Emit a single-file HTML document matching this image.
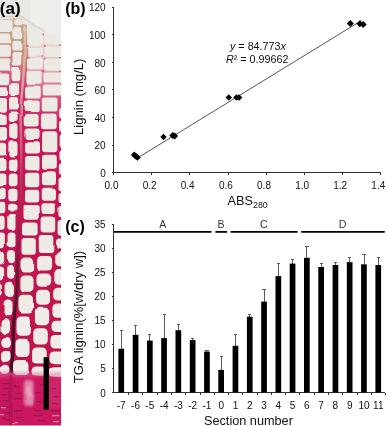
<!DOCTYPE html>
<html lang="en"><head><meta charset="utf-8"><title>Figure</title>
<style>
html,body{margin:0;padding:0;background:#fff;}
body{width:387px;height:426px;overflow:hidden;}
svg{display:block;}
text{font-family:"Liberation Sans",Arial,Helvetica,sans-serif;fill:#111;}
.b{font-weight:bold;font-size:16px;fill:#000;}
.t{font-size:10px;}
.ax{font-size:13.1px;}
.g{font-size:10.6px;fill:#333;}
.eq{font-size:10.75px;}
</style></head><body>
<svg width="387" height="426" viewBox="0 0 387 426">
<defs>
<linearGradient id="wall" x1="0" y1="0" x2="0" y2="426" gradientUnits="userSpaceOnUse">
<stop offset="0" stop-color="#e9e8e4"/>
<stop offset="0.038" stop-color="#dccbbb"/>
<stop offset="0.06" stop-color="#c7a288"/>
<stop offset="0.10" stop-color="#c4967c"/>
<stop offset="0.14" stop-color="#d08484"/>
<stop offset="0.176" stop-color="#d6557f"/>
<stop offset="0.21" stop-color="#d0306a"/>
<stop offset="0.26" stop-color="#cc1e60"/>
<stop offset="0.35" stop-color="#c81858"/>
<stop offset="0.59" stop-color="#c01450"/>
<stop offset="1" stop-color="#bc104c"/>
</linearGradient>
<linearGradient id="wallR" x1="0" y1="0" x2="0" y2="426" gradientUnits="userSpaceOnUse">
<stop offset="0" stop-color="#efeeeb"/>
<stop offset="0.07" stop-color="#eeece8"/>
<stop offset="0.10" stop-color="#e8d6cf"/>
<stop offset="0.15" stop-color="#e4bcc0"/>
<stop offset="0.19" stop-color="#de7d9c"/>
<stop offset="0.24" stop-color="#d84c7e" stop-opacity="1"/>
<stop offset="0.30" stop-color="#d12e6a" stop-opacity="0"/>
<stop offset="1" stop-color="#c41252" stop-opacity="0"/>
</linearGradient>
<linearGradient id="ray" x1="0" y1="0" x2="0" y2="426" gradientUnits="userSpaceOnUse">
<stop offset="0.05" stop-color="#dcc8b0"/>
<stop offset="0.16" stop-color="#d4b098"/>
<stop offset="0.22" stop-color="#d89aa0"/>
<stop offset="0.30" stop-color="#d07088"/>
<stop offset="0.40" stop-color="#c23a66"/>
<stop offset="0.50" stop-color="#a82250"/>
<stop offset="0.60" stop-color="#8a1a42"/>
<stop offset="0.68" stop-color="#5a1430"/>
<stop offset="0.88" stop-color="#3c0a22"/>
</linearGradient>
<linearGradient id="lumen" x1="0" y1="0" x2="0" y2="426" gradientUnits="userSpaceOnUse">
<stop offset="0" stop-color="#ebe9e3"/>
<stop offset="0.5" stop-color="#eeebe4"/>
<stop offset="1" stop-color="#f1ece8"/>
</linearGradient>
<clipPath id="mclip"><rect x="0" y="0" width="61" height="426"/></clipPath>
<filter id="soft2" x="-150%" y="-50%" width="400%" height="200%"><feGaussianBlur stdDeviation="1.6"/></filter>
<filter id="soft" x="-10%" y="-2%" width="120%" height="104%"><feTurbulence type="fractalNoise" baseFrequency="0.05" numOctaves="1" seed="7" result="n"/><feDisplacementMap in="SourceGraphic" in2="n" scale="3.2" xChannelSelector="R" yChannelSelector="G" result="d"/><feGaussianBlur in="d" stdDeviation="0.45"/></filter>
</defs>
<rect width="387" height="426" fill="#fff"/>

<g clip-path="url(#mclip)"><g filter="url(#soft)">
<rect x="-5" y="-5" width="72" height="436" fill="url(#wall)"/>
<rect x="27" y="-5" width="40" height="436" fill="url(#wallR)"/>
<polygon points="-5,-5 67,-5 67,33.6 46,33.2 43,31 29,30.5 28,25 22.5,24 22,18.6 14,18.6 -5,19.5" fill="#e9e8e4"/>
<polygon points="30,-5 67,-5 67,33.6 46,33.2 43,31 36,26 30,21" fill="#f0efec" opacity="0.8"/>
<path d="M-2,17.5 L10,16.5 L20,15.5 L28,21 L36,26.5 L45,32" fill="none" stroke="#cdb09c" stroke-width="1.2" opacity="0.5"/>
<path d="M14,18 L12,32" fill="none" stroke="#c9a58a" stroke-width="1.3" opacity="0.8"/>
<circle cx="43" cy="34.5" r="1.1" fill="#c8305a" opacity="0.75"/>
<circle cx="45" cy="46" r="1.1" fill="#c8305a" opacity="0.75"/>
<circle cx="41.5" cy="55.5" r="1.1" fill="#c8305a" opacity="0.75"/>
<circle cx="45" cy="59" r="1.1" fill="#c8305a" opacity="0.75"/>
<circle cx="60" cy="45" r="1.1" fill="#c8305a" opacity="0.75"/>
<circle cx="60" cy="57.5" r="1.1" fill="#c8305a" opacity="0.75"/>
<circle cx="27.5" cy="46" r="1.1" fill="#c8305a" opacity="0.75"/>
<circle cx="27.5" cy="57" r="1.1" fill="#c8305a" opacity="0.75"/>
<circle cx="43" cy="71" r="1.1" fill="#c8305a" opacity="0.75"/>
<circle cx="60" cy="71" r="1.1" fill="#c8305a" opacity="0.75"/>
<polygon points="24.0,24.0 23.9,30.0 23.7,36.0 23.5,42.0 23.3,48.0 23.2,54.0 23.1,60.0 22.8,66.0 22.4,72.0 22.0,78.0 21.4,84.0 20.9,90.0 20.4,96.0 19.9,102.0 19.5,108.0 19.4,114.0 19.4,120.0 19.5,126.0 19.7,132.0 19.8,138.0 19.9,144.0 20.0,150.0 20.0,156.0 20.0,162.0 20.0,168.0 20.0,174.0 20.0,180.0 20.0,186.0 20.0,192.0 19.9,198.0 19.3,204.0 18.7,210.0 18.3,216.0 17.8,222.0 17.5,228.0 17.4,234.0 17.0,240.0 16.8,246.0 16.6,252.0 16.3,258.0 15.9,264.0 15.7,270.0 15.7,276.0 15.7,282.0 15.4,288.0 14.9,294.0 14.4,300.0 13.9,306.0 13.3,312.0 12.6,318.0 11.9,324.0 11.7,330.0 11.7,336.0 11.8,342.0 11.6,348.0 11.1,354.0 10.5,360.0 9.9,366.0 9.7,372.0 12.8,376.0 12.8,370.0 13.3,364.0 13.9,358.0 14.4,352.0 14.8,346.0 14.9,340.0 14.9,334.0 14.8,328.0 15.4,322.0 16.0,316.0 16.7,310.0 17.3,304.0 17.8,298.0 18.3,292.0 18.7,286.0 18.9,280.0 18.9,274.0 19.0,268.0 19.3,262.0 19.6,256.0 19.8,250.0 20.1,244.0 19.9,238.0 20.0,232.0 20.1,226.0 20.5,220.0 20.9,214.0 21.4,208.0 22.1,202.0 22.5,196.0 22.5,190.0 22.5,184.0 22.5,178.0 22.5,172.0 22.5,166.0 22.5,160.0 22.5,154.0 22.5,148.0 22.4,142.0 22.3,136.0 22.1,130.0 22.0,124.0 21.9,118.0 22.0,112.0 22.1,106.0 22.5,100.0 23.0,94.0 23.5,88.0 24.1,82.0 24.6,76.0 25.0,70.0 25.4,64.0 25.7,58.0 25.8,52.0 25.9,46.0 26.1,40.0 26.3,34.0 26.5,28.0" fill="url(#ray)"/>
<g fill="url(#lumen)">
<rect x="-5.3" y="19.7" width="17.9" height="12.3" rx="2.6"/>
<rect x="-5.3" y="33.4" width="16.6" height="9.8" rx="2.6"/>
<rect x="-5.2" y="44.8" width="16.0" height="12.0" rx="2.6"/>
<rect x="-5.2" y="58.3" width="15.7" height="13.3" rx="2.6"/>
<rect x="-5.1" y="73.4" width="14.4" height="11.9" rx="2.6"/>
<rect x="-5.0" y="87.2" width="13.0" height="8.9" rx="2.6"/>
<rect x="-5.0" y="98.0" width="12.0" height="13.7" rx="2.6"/>
<rect x="-4.9" y="113.8" width="11.6" height="11.2" rx="2.6"/>
<rect x="-4.9" y="127.1" width="11.9" height="13.3" rx="3.0"/>
<rect x="-4.8" y="142.7" width="11.9" height="12.7" rx="3.0"/>
<rect x="-4.8" y="157.7" width="11.3" height="13.2" rx="3.0"/>
<rect x="-4.7" y="173.5" width="11.0" height="12.8" rx="3.0"/>
<rect x="-4.7" y="188.8" width="10.4" height="10.4" rx="3.0"/>
<rect x="-4.7" y="201.8" width="10.0" height="11.4" rx="3.0"/>
<rect x="-4.7" y="215.8" width="9.3" height="14.0" rx="3.0"/>
<rect x="-4.6" y="232.6" width="9.4" height="14.7" rx="3.0"/>
<rect x="-4.6" y="250.1" width="8.7" height="14.5" rx="4.3"/>
<rect x="-4.6" y="267.4" width="7.7" height="13.1" rx="3.8"/>
<rect x="-4.5" y="283.5" width="6.3" height="12.1" rx="3.1"/>
<rect x="14.4" y="19.3" width="8.1" height="6.0" rx="2.6"/>
<rect x="13.2" y="26.7" width="9.0" height="12.6" rx="2.6"/>
<rect x="12.3" y="40.8" width="9.2" height="9.7" rx="2.6"/>
<rect x="12.5" y="52.0" width="8.8" height="13.4" rx="2.6"/>
<rect x="11.6" y="67.1" width="8.7" height="14.1" rx="2.6"/>
<rect x="10.1" y="82.9" width="9.0" height="12.1" rx="2.6"/>
<rect x="9.1" y="97.0" width="9.0" height="12.5" rx="2.6"/>
<rect x="8.8" y="111.5" width="8.8" height="9.4" rx="2.6"/>
<rect x="9.2" y="123.1" width="8.3" height="15.8" rx="3.0"/>
<rect x="9.4" y="141.2" width="8.1" height="15.2" rx="3.0"/>
<rect x="8.9" y="158.7" width="8.6" height="12.2" rx="3.0"/>
<rect x="8.8" y="173.5" width="8.7" height="12.8" rx="3.0"/>
<rect x="8.3" y="188.8" width="9.2" height="12.4" rx="3.0"/>
<rect x="8.0" y="203.8" width="8.5" height="7.6" rx="3.0"/>
<rect x="7.3" y="214.0" width="8.2" height="15.8" rx="3.0"/>
<rect x="7.6" y="232.6" width="7.9" height="14.7" rx="3.0"/>
<rect x="6.9" y="250.1" width="8.1" height="13.2" rx="4.0"/>
<rect x="6.1" y="266.1" width="7.9" height="12.6" rx="4.0"/>
<rect x="4.6" y="281.7" width="9.3" height="14.9" rx="4.4"/>
<rect x="3.5" y="299.5" width="9.0" height="16.7" rx="4.4"/>
<rect x="1.5" y="319.2" width="8.5" height="15.8" rx="4.3"/>
<rect x="1.3" y="338.0" width="9.7" height="10.0" rx="4.4"/>
<rect x="1.0" y="351.0" width="9.5" height="11.7" rx="4.4"/>
<rect x="0.7" y="365.7" width="8.8" height="9.3" rx="4.4"/>
<rect x="27.9" y="32.7" width="14.7" height="12.7" rx="2.6"/>
<rect x="27.7" y="47.0" width="15.2" height="8.8" rx="2.6"/>
<rect x="27.3" y="57.3" width="15.4" height="11.9" rx="2.6"/>
<rect x="26.5" y="70.9" width="15.1" height="12.9" rx="2.6"/>
<rect x="25.0" y="85.7" width="15.7" height="12.9" rx="2.6"/>
<rect x="23.7" y="100.5" width="16.0" height="11.5" rx="2.6"/>
<rect x="23.7" y="114.1" width="14.9" height="12.4" rx="3.0"/>
<rect x="24.5" y="128.6" width="15.1" height="10.3" rx="3.0"/>
<rect x="25.0" y="141.2" width="15.0" height="12.4" rx="3.0"/>
<rect x="25.0" y="155.9" width="14.5" height="14.4" rx="3.0"/>
<rect x="25.0" y="172.8" width="14.3" height="14.5" rx="3.0"/>
<rect x="25.0" y="189.8" width="14.2" height="12.6" rx="3.0"/>
<rect x="23.5" y="205.0" width="15.2" height="14.8" rx="3.0"/>
<rect x="22.0" y="222.6" width="15.6" height="12.8" rx="3.0"/>
<rect x="21.5" y="238.1" width="14.3" height="16.7" rx="3.0"/>
<rect x="20.5" y="257.6" width="13.6" height="15.0" rx="4.4"/>
<rect x="20.4" y="275.4" width="13.1" height="16.3" rx="4.4"/>
<rect x="18.5" y="294.7" width="14.5" height="18.8" rx="4.4"/>
<rect x="16.5" y="316.5" width="14.5" height="19.2" rx="4.4"/>
<rect x="15.5" y="338.7" width="14.0" height="18.3" rx="4.4"/>
<rect x="13.0" y="360.0" width="15.5" height="15.0" rx="4.4"/>
<rect x="44.1" y="34.7" width="21.0" height="9.7" rx="2.6"/>
<rect x="44.5" y="46.0" width="20.4" height="11.0" rx="2.6"/>
<rect x="44.2" y="58.5" width="20.3" height="12.2" rx="2.6"/>
<rect x="43.4" y="72.4" width="20.9" height="10.2" rx="2.6"/>
<rect x="42.8" y="84.5" width="18.8" height="11.1" rx="2.6"/>
<rect x="41.8" y="97.5" width="15.7" height="14.0" rx="2.6"/>
<rect x="40.9" y="113.6" width="15.8" height="15.6" rx="3.0"/>
<rect x="42.1" y="131.3" width="15.2" height="21.0" rx="3.0"/>
<rect x="42.0" y="154.7" width="14.8" height="14.1" rx="3.0"/>
<rect x="41.9" y="171.3" width="14.1" height="14.0" rx="3.0"/>
<rect x="41.8" y="187.8" width="14.1" height="12.9" rx="3.0"/>
<rect x="41.4" y="203.3" width="14.4" height="10.6" rx="3.0"/>
<rect x="40.6" y="216.6" width="14.6" height="15.8" rx="3.0"/>
<rect x="38.8" y="235.1" width="14.5" height="18.0" rx="3.0"/>
<rect x="37.1" y="255.9" width="15.0" height="14.7" rx="4.4"/>
<rect x="36.5" y="273.4" width="14.7" height="13.3" rx="4.4"/>
<rect x="36.1" y="289.7" width="13.9" height="15.1" rx="4.4"/>
<rect x="34.9" y="307.7" width="14.3" height="17.5" rx="4.4"/>
<rect x="33.3" y="328.2" width="14.5" height="16.3" rx="4.4"/>
<rect x="32.1" y="347.5" width="14.6" height="16.0" rx="4.4"/>
<rect x="31.5" y="366.5" width="14.0" height="9.5" rx="4.4"/>
<rect x="59.1" y="108.0" width="7.9" height="10.4" rx="2.6"/>
<rect x="59.0" y="120.6" width="7.9" height="11.5" rx="3.0"/>
<rect x="59.6" y="134.3" width="7.3" height="13.5" rx="3.0"/>
<rect x="59.4" y="150.2" width="7.4" height="10.6" rx="3.0"/>
<rect x="58.9" y="163.2" width="7.9" height="11.5" rx="3.0"/>
<rect x="58.5" y="177.3" width="8.2" height="13.1" rx="3.0"/>
<rect x="58.5" y="193.0" width="8.2" height="10.2" rx="3.0"/>
<rect x="58.4" y="205.8" width="8.3" height="11.5" rx="3.0"/>
<rect x="57.6" y="220.1" width="9.1" height="15.6" rx="3.0"/>
<rect x="56.1" y="238.4" width="10.5" height="10.9" rx="3.0"/>
<rect x="55.2" y="252.1" width="11.4" height="14.2" rx="4.4"/>
<rect x="54.3" y="269.1" width="12.3" height="15.6" rx="4.4"/>
<rect x="53.2" y="287.7" width="13.4" height="12.9" rx="4.4"/>
<rect x="52.4" y="303.5" width="14.1" height="14.2" rx="4.4"/>
<rect x="51.5" y="320.7" width="15.0" height="11.3" rx="4.4"/>
<rect x="50.4" y="335.0" width="16.1" height="13.5" rx="4.4"/>
<rect x="49.5" y="351.5" width="17.0" height="12.7" rx="4.4"/>
<rect x="48.5" y="367.2" width="18.0" height="9.8" rx="4.4"/>
</g>
<path d="M-5,375.5 L30,375 L45,376 L67,377.5 L67,431 L-5,431 Z" fill="#cc1560"/>
<rect x="-5" y="372.5" width="72" height="4.5" fill="#de6a98" opacity="0.5" filter="url(#soft2)"/>
<rect x="24" y="380" width="9.5" height="26" rx="3" fill="#e38aae" opacity="0.95" filter="url(#soft2)"/>
<rect x="26.5" y="386" width="4" height="11" rx="2" fill="#ecb0c8" opacity="0.8" filter="url(#soft2)"/>
<rect x="48" y="378" width="14" height="30" fill="#d6457f" opacity="0.35" filter="url(#soft2)"/>
<rect x="2" y="383" width="7" height="1.2" fill="#5a103c" opacity="0.5"/>
<rect x="3" y="388" width="6" height="1.2" fill="#5a103c" opacity="0.5"/>
<rect x="1" y="394" width="7" height="1.2" fill="#5a103c" opacity="0.5"/>
<rect x="2" y="400" width="7" height="1.2" fill="#5a103c" opacity="0.5"/>
<rect x="1" y="406" width="8" height="1.2" fill="#5a103c" opacity="0.5"/>
<rect x="3" y="412" width="7" height="1.2" fill="#5a103c" opacity="0.5"/>
<rect x="2" y="418" width="8" height="1.2" fill="#5a103c" opacity="0.5"/>
<rect x="14" y="385" width="6" height="1.2" fill="#5a103c" opacity="0.5"/>
<rect x="15" y="392" width="7" height="1.2" fill="#5a103c" opacity="0.5"/>
<rect x="14" y="398" width="8" height="1.2" fill="#5a103c" opacity="0.5"/>
<rect x="15" y="405" width="9" height="1.2" fill="#5a103c" opacity="0.5"/>
<rect x="14" y="411" width="8" height="1.2" fill="#5a103c" opacity="0.5"/>
<rect x="16" y="417" width="8" height="1.2" fill="#5a103c" opacity="0.5"/>
<rect x="35" y="392" width="6" height="1.2" fill="#5a103c" opacity="0.5"/>
<rect x="36" y="401" width="7" height="1.2" fill="#5a103c" opacity="0.5"/>
<rect x="34" y="409" width="8" height="1.2" fill="#5a103c" opacity="0.5"/>
<rect x="33" y="415" width="9" height="1.2" fill="#5a103c" opacity="0.5"/>
<rect x="38" y="420" width="8" height="1.2" fill="#5a103c" opacity="0.5"/>
<rect x="52" y="388" width="5" height="1.2" fill="#5a103c" opacity="0.5"/>
<rect x="53" y="396" width="6" height="1.2" fill="#5a103c" opacity="0.5"/>
<rect x="52" y="403" width="6" height="1.2" fill="#5a103c" opacity="0.5"/>
<rect x="51" y="410" width="8" height="1.2" fill="#5a103c" opacity="0.5"/>
<rect x="40" y="384" width="3" height="1.2" fill="#5a103c" opacity="0.5"/>
<rect x="1" y="407" width="5" height="1.3" fill="#c9a0b0" opacity="0.8"/>
<rect x="0" y="414" width="4" height="1.3" fill="#c9a0b0" opacity="0.8"/>
<rect x="52" y="415" width="7" height="1.3" fill="#c9a0b0" opacity="0.8"/>
<rect x="53" y="421" width="6" height="1.3" fill="#c9a0b0" opacity="0.8"/>
<rect x="12" y="422" width="6" height="1.3" fill="#c9a0b0" opacity="0.8"/>
<rect x="9" y="376" width="3.5" height="50" fill="#7a0f3c" opacity="0.35"/>
</g>
<rect x="43.6" y="357.2" width="5.3" height="52.4" fill="#000"/>
</g>
<rect x="0" y="425" width="61" height="1" fill="#f3d9e3" opacity="0.6"/>
<text class="b" style="font-size:17px" x="-0.2" y="14.2">(a)</text>
<text class="b" x="65.2" y="14">(b)</text>
<text class="b" x="65.2" y="232.3">(c)</text>
<g stroke="#333" stroke-width="1" fill="none" shape-rendering="crispEdges">
<line x1="113.7" y1="7.0" x2="113.7" y2="172.6"/>
<line x1="113.7" y1="172.6" x2="380.5" y2="172.6"/>
<line x1="111.5" y1="172.6" x2="113.7" y2="172.6"/>
<line x1="111.5" y1="145.0" x2="113.7" y2="145.0"/>
<line x1="111.5" y1="117.4" x2="113.7" y2="117.4"/>
<line x1="111.5" y1="89.8" x2="113.7" y2="89.8"/>
<line x1="111.5" y1="62.2" x2="113.7" y2="62.2"/>
<line x1="111.5" y1="34.6" x2="113.7" y2="34.6"/>
<line x1="111.5" y1="7.0" x2="113.7" y2="7.0"/>
<line x1="113.7" y1="172.6" x2="113.7" y2="174.79999999999998"/>
<line x1="151.8" y1="172.6" x2="151.8" y2="174.79999999999998"/>
<line x1="189.9" y1="172.6" x2="189.9" y2="174.79999999999998"/>
<line x1="228.1" y1="172.6" x2="228.1" y2="174.79999999999998"/>
<line x1="266.2" y1="172.6" x2="266.2" y2="174.79999999999998"/>
<line x1="304.3" y1="172.6" x2="304.3" y2="174.79999999999998"/>
<line x1="342.4" y1="172.6" x2="342.4" y2="174.79999999999998"/>
<line x1="380.5" y1="172.6" x2="380.5" y2="174.79999999999998"/>
</g>
<text class="t" x="105.7" y="176.9" text-anchor="end">0</text>
<text class="t" x="105.7" y="149.3" text-anchor="end">20</text>
<text class="t" x="105.7" y="121.7" text-anchor="end">40</text>
<text class="t" x="105.7" y="94.1" text-anchor="end">60</text>
<text class="t" x="105.7" y="66.5" text-anchor="end">80</text>
<text class="t" x="105.7" y="38.9" text-anchor="end">100</text>
<text class="t" x="105.7" y="11.3" text-anchor="end">120</text>
<text class="t" x="111.5" y="188.7" text-anchor="middle">0.0</text>
<text class="t" x="149.6" y="188.7" text-anchor="middle">0.2</text>
<text class="t" x="187.7" y="188.7" text-anchor="middle">0.4</text>
<text class="t" x="225.9" y="188.7" text-anchor="middle">0.6</text>
<text class="t" x="264.0" y="188.7" text-anchor="middle">0.8</text>
<text class="t" x="302.1" y="188.7" text-anchor="middle">1.0</text>
<text class="t" x="340.2" y="188.7" text-anchor="middle">1.2</text>
<text class="t" x="378.3" y="188.7" text-anchor="middle">1.4</text>
<line x1="137.5" y1="158.0" x2="361.5" y2="20.5" stroke="#555" stroke-width="1"/>
<g fill="#000">
<polygon points="130.9,155.0 134.3,151.6 137.7,155.0 134.3,158.4"/>
<polygon points="132.4,156.1 135.8,152.7 139.2,156.1 135.8,159.5"/>
<polygon points="134.0,157.4 137.4,154.0 140.8,157.4 137.4,160.8"/>
<polygon points="160.3,137.0 163.5,133.8 166.7,137.0 163.5,140.2"/>
<polygon points="169.3,135.4 172.8,131.9 176.3,135.4 172.8,138.9"/>
<polygon points="171.1,135.9 174.6,132.4 178.1,135.9 174.6,139.4"/>
<polygon points="225.5,97.5 228.8,94.2 232.1,97.5 228.8,100.8"/>
<polygon points="233.2,97.5 236.5,94.2 239.8,97.5 236.5,100.8"/>
<polygon points="235.8,97.5 239.1,94.2 242.4,97.5 239.1,100.8"/>
<polygon points="346.8,23.5 350.3,20.0 353.8,23.5 350.3,27.0"/>
<polygon points="356.4,23.8 359.9,20.3 363.4,23.8 359.9,27.3"/>
<polygon points="359.7,24.5 363.2,21.0 366.7,24.5 363.2,28.0"/>
</g>
<text class="eq" x="230" y="50"><tspan font-style="italic">y</tspan> = 84.773<tspan font-style="italic">x</tspan></text>
<text class="eq" x="226" y="62.6"><tspan font-style="italic">R</tspan>² = 0.99662</text>
<text class="ax" transform="translate(83.3,135) rotate(-90)">Lignin (mg/L)</text>
<text class="ax" style="font-size:12.7px" x="227.6" y="204.9">ABS<tspan font-size="8.8px" dy="3.4">280</tspan></text>
<g stroke="#333" stroke-width="1" fill="none" shape-rendering="crispEdges">
<line x1="113.7" y1="224.2" x2="113.7" y2="392.5"/>
<line x1="113.7" y1="392.5" x2="385.2" y2="392.5"/>
<line x1="111.5" y1="392.5" x2="113.7" y2="392.5"/>
<line x1="111.5" y1="368.4" x2="113.7" y2="368.4"/>
<line x1="111.5" y1="344.4" x2="113.7" y2="344.4"/>
<line x1="111.5" y1="320.4" x2="113.7" y2="320.4"/>
<line x1="111.5" y1="296.3" x2="113.7" y2="296.3"/>
<line x1="111.5" y1="272.2" x2="113.7" y2="272.2"/>
<line x1="111.5" y1="248.2" x2="113.7" y2="248.2"/>
<line x1="111.5" y1="224.2" x2="113.7" y2="224.2"/>
<line x1="128.6" y1="392.5" x2="128.6" y2="394.5"/>
<line x1="142.9" y1="392.5" x2="142.9" y2="394.5"/>
<line x1="157.1" y1="392.5" x2="157.1" y2="394.5"/>
<line x1="171.4" y1="392.5" x2="171.4" y2="394.5"/>
<line x1="185.7" y1="392.5" x2="185.7" y2="394.5"/>
<line x1="200.0" y1="392.5" x2="200.0" y2="394.5"/>
<line x1="214.3" y1="392.5" x2="214.3" y2="394.5"/>
<line x1="228.5" y1="392.5" x2="228.5" y2="394.5"/>
<line x1="242.8" y1="392.5" x2="242.8" y2="394.5"/>
<line x1="257.1" y1="392.5" x2="257.1" y2="394.5"/>
<line x1="271.4" y1="392.5" x2="271.4" y2="394.5"/>
<line x1="285.7" y1="392.5" x2="285.7" y2="394.5"/>
<line x1="299.9" y1="392.5" x2="299.9" y2="394.5"/>
<line x1="314.2" y1="392.5" x2="314.2" y2="394.5"/>
<line x1="328.5" y1="392.5" x2="328.5" y2="394.5"/>
<line x1="342.8" y1="392.5" x2="342.8" y2="394.5"/>
<line x1="357.1" y1="392.5" x2="357.1" y2="394.5"/>
<line x1="371.3" y1="392.5" x2="371.3" y2="394.5"/>
<line x1="385.6" y1="392.5" x2="385.6" y2="394.5"/>
</g>
<text class="t" x="105.7" y="396.5" text-anchor="end">0</text>
<text class="t" x="105.7" y="372.4" text-anchor="end">5</text>
<text class="t" x="105.7" y="348.4" text-anchor="end">10</text>
<text class="t" x="105.7" y="324.4" text-anchor="end">15</text>
<text class="t" x="105.7" y="300.3" text-anchor="end">20</text>
<text class="t" x="105.7" y="276.2" text-anchor="end">25</text>
<text class="t" x="105.7" y="252.2" text-anchor="end">30</text>
<text class="t" x="105.7" y="228.2" text-anchor="end">35</text>
<g stroke="#5a5a5a" stroke-width="1" shape-rendering="crispEdges"><line x1="121.2" y1="330.7" x2="121.2" y2="348.8"/><line x1="119.7" y1="330.7" x2="122.8" y2="330.7"/></g>
<rect x="118.4" y="348.8" width="5.7" height="43.7" fill="#000"/>
<text class="t" x="121.2" y="409.2" text-anchor="middle">-7</text>
<g stroke="#5a5a5a" stroke-width="1" shape-rendering="crispEdges"><line x1="135.5" y1="325.6" x2="135.5" y2="334.8"/><line x1="133.9" y1="325.6" x2="137.1" y2="325.6"/></g>
<rect x="132.7" y="334.8" width="5.7" height="57.7" fill="#000"/>
<text class="t" x="135.5" y="409.2" text-anchor="middle">-6</text>
<g stroke="#5a5a5a" stroke-width="1" shape-rendering="crispEdges"><line x1="149.8" y1="334.1" x2="149.8" y2="340.6"/><line x1="148.2" y1="334.1" x2="151.4" y2="334.1"/></g>
<rect x="147.0" y="340.6" width="5.7" height="51.9" fill="#000"/>
<text class="t" x="149.8" y="409.2" text-anchor="middle">-5</text>
<g stroke="#5a5a5a" stroke-width="1" shape-rendering="crispEdges"><line x1="164.1" y1="314.1" x2="164.1" y2="338.1"/><line x1="162.5" y1="314.1" x2="165.7" y2="314.1"/></g>
<rect x="161.2" y="338.1" width="5.7" height="54.4" fill="#000"/>
<text class="t" x="164.1" y="409.2" text-anchor="middle">-4</text>
<g stroke="#5a5a5a" stroke-width="1" shape-rendering="crispEdges"><line x1="178.4" y1="324.3" x2="178.4" y2="330.2"/><line x1="176.8" y1="324.3" x2="180.0" y2="324.3"/></g>
<rect x="175.5" y="330.2" width="5.7" height="62.3" fill="#000"/>
<text class="t" x="178.4" y="409.2" text-anchor="middle">-3</text>
<g stroke="#5a5a5a" stroke-width="1" shape-rendering="crispEdges"><line x1="192.6" y1="338.0" x2="192.6" y2="340.1"/><line x1="191.0" y1="338.0" x2="194.2" y2="338.0"/></g>
<rect x="189.8" y="340.1" width="5.7" height="52.4" fill="#000"/>
<text class="t" x="192.6" y="409.2" text-anchor="middle">-2</text>
<g stroke="#5a5a5a" stroke-width="1" shape-rendering="crispEdges"><line x1="206.9" y1="350.1" x2="206.9" y2="351.6"/><line x1="205.3" y1="350.1" x2="208.5" y2="350.1"/></g>
<rect x="204.1" y="351.6" width="5.7" height="40.9" fill="#000"/>
<text class="t" x="206.9" y="409.2" text-anchor="middle">-1</text>
<g stroke="#5a5a5a" stroke-width="1" shape-rendering="crispEdges"><line x1="221.2" y1="356.6" x2="221.2" y2="369.9"/><line x1="219.6" y1="356.6" x2="222.8" y2="356.6"/></g>
<rect x="218.3" y="369.9" width="5.7" height="22.6" fill="#000"/>
<text class="t" x="221.2" y="409.2" text-anchor="middle">0</text>
<g stroke="#5a5a5a" stroke-width="1" shape-rendering="crispEdges"><line x1="235.5" y1="334.6" x2="235.5" y2="345.8"/><line x1="233.9" y1="334.6" x2="237.1" y2="334.6"/></g>
<rect x="232.6" y="345.8" width="5.7" height="46.7" fill="#000"/>
<text class="t" x="235.5" y="409.2" text-anchor="middle">1</text>
<g stroke="#5a5a5a" stroke-width="1" shape-rendering="crispEdges"><line x1="249.8" y1="314.6" x2="249.8" y2="316.7"/><line x1="248.2" y1="314.6" x2="251.4" y2="314.6"/></g>
<rect x="246.9" y="316.7" width="5.7" height="75.8" fill="#000"/>
<text class="t" x="249.8" y="409.2" text-anchor="middle">2</text>
<g stroke="#5a5a5a" stroke-width="1" shape-rendering="crispEdges"><line x1="264.0" y1="289.6" x2="264.0" y2="301.6"/><line x1="262.4" y1="289.6" x2="265.6" y2="289.6"/></g>
<rect x="261.2" y="301.6" width="5.7" height="90.9" fill="#000"/>
<text class="t" x="264.0" y="409.2" text-anchor="middle">3</text>
<g stroke="#5a5a5a" stroke-width="1" shape-rendering="crispEdges"><line x1="278.3" y1="263.5" x2="278.3" y2="276.1"/><line x1="276.7" y1="263.5" x2="279.9" y2="263.5"/></g>
<rect x="275.5" y="276.1" width="5.7" height="116.4" fill="#000"/>
<text class="t" x="278.3" y="409.2" text-anchor="middle">4</text>
<g stroke="#5a5a5a" stroke-width="1" shape-rendering="crispEdges"><line x1="292.6" y1="259.6" x2="292.6" y2="263.6"/><line x1="291.0" y1="259.6" x2="294.2" y2="259.6"/></g>
<rect x="289.7" y="263.6" width="5.7" height="128.9" fill="#000"/>
<text class="t" x="292.6" y="409.2" text-anchor="middle">5</text>
<g stroke="#5a5a5a" stroke-width="1" shape-rendering="crispEdges"><line x1="306.9" y1="246.7" x2="306.9" y2="257.8"/><line x1="305.3" y1="246.7" x2="308.5" y2="246.7"/></g>
<rect x="304.0" y="257.8" width="5.7" height="134.7" fill="#000"/>
<text class="t" x="306.9" y="409.2" text-anchor="middle">6</text>
<g stroke="#5a5a5a" stroke-width="1" shape-rendering="crispEdges"><line x1="321.1" y1="263.5" x2="321.1" y2="267.0"/><line x1="319.5" y1="263.5" x2="322.7" y2="263.5"/></g>
<rect x="318.3" y="267.0" width="5.7" height="125.5" fill="#000"/>
<text class="t" x="321.1" y="409.2" text-anchor="middle">7</text>
<g stroke="#5a5a5a" stroke-width="1" shape-rendering="crispEdges"><line x1="335.4" y1="262.7" x2="335.4" y2="265.0"/><line x1="333.8" y1="262.7" x2="337.0" y2="262.7"/></g>
<rect x="332.6" y="265.0" width="5.7" height="127.5" fill="#000"/>
<text class="t" x="335.4" y="409.2" text-anchor="middle">8</text>
<g stroke="#5a5a5a" stroke-width="1" shape-rendering="crispEdges"><line x1="349.7" y1="257.0" x2="349.7" y2="262.1"/><line x1="348.1" y1="257.0" x2="351.3" y2="257.0"/></g>
<rect x="346.8" y="262.1" width="5.7" height="130.4" fill="#000"/>
<text class="t" x="349.7" y="409.2" text-anchor="middle">9</text>
<g stroke="#5a5a5a" stroke-width="1" shape-rendering="crispEdges"><line x1="364.0" y1="254.4" x2="364.0" y2="264.3"/><line x1="362.4" y1="254.4" x2="365.6" y2="254.4"/></g>
<rect x="361.1" y="264.3" width="5.7" height="128.2" fill="#000"/>
<text class="t" x="364.0" y="409.2" text-anchor="middle">10</text>
<g stroke="#5a5a5a" stroke-width="1" shape-rendering="crispEdges"><line x1="378.3" y1="257.0" x2="378.3" y2="265.0"/><line x1="376.7" y1="257.0" x2="379.9" y2="257.0"/></g>
<rect x="375.4" y="265.0" width="5.7" height="127.5" fill="#000"/>
<text class="t" x="378.3" y="409.2" text-anchor="middle">11</text>
<g stroke="#000" stroke-width="1.8">
<line x1="113.7" y1="231.9" x2="211.5" y2="231.9"/>
<line x1="215.4" y1="231.9" x2="227" y2="231.9"/>
<line x1="230.6" y1="231.9" x2="297.6" y2="231.9"/>
<line x1="301.2" y1="231.9" x2="384.7" y2="231.9"/>
</g>
<text class="g" x="162.9" y="228" text-anchor="middle">A</text>
<text class="g" x="221" y="228" text-anchor="middle">B</text>
<text class="g" x="263.8" y="228" text-anchor="middle">C</text>
<text class="g" x="342.6" y="228" text-anchor="middle">D</text>
<text class="ax" transform="translate(83.3,383.2) rotate(-90)">TGA lignin(%[w/dry w])</text>
<text class="ax" style="font-size:12.7px" x="204" y="424.6">Section number</text>
</svg></body></html>
